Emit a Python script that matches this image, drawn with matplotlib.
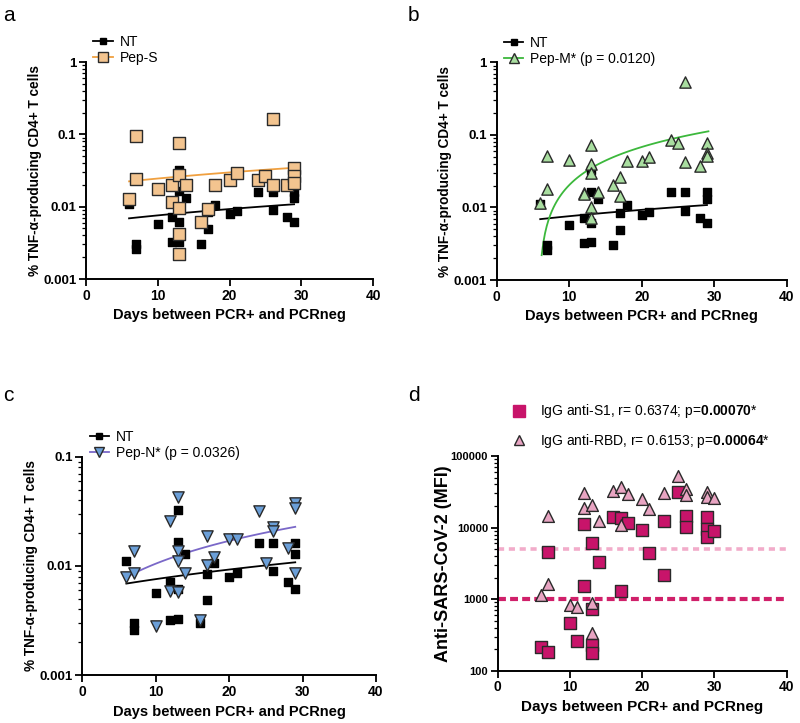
import numpy as np
import matplotlib
matplotlib.use("Agg")
import matplotlib.pyplot as plt
from matplotlib.lines import Line2D
from matplotlib.ticker import LogLocator, NullFormatter

plt.rcParams["font.family"] = "Liberation Sans"
plt.rcParams["mathtext.fontset"] = "custom"
plt.rcParams["mathtext.rm"] = "Liberation Sans"
plt.rcParams["mathtext.bf"] = "Liberation Sans:bold"

# unstimulated (NT) values, same in panels a-c
nt_days = [6, 7, 7, 10, 12, 12, 13, 13, 13, 13, 14, 16, 17, 17, 18, 20, 21, 24, 26, 26, 28, 29, 29, 29]
nt_vals = [0.011, 0.0030, 0.0026, 0.0057, 0.0072, 0.0032, 0.0325, 0.0165, 0.0061, 0.0033,
           0.013, 0.0030, 0.0049, 0.0085, 0.0107, 0.0079, 0.0086, 0.0161, 0.0161, 0.0089,
           0.0072, 0.0161, 0.013, 0.0061]
nt_fit_x = [6, 29]
nt_fit_y = [0.0069, 0.0108]

# panel a: Pep-S
s_days = [6, 7, 7, 10, 12, 12, 13, 13, 13, 13, 13, 14, 16, 17, 18, 20, 21, 24, 25, 26, 26, 28, 29, 29, 29]
s_vals = [0.0128, 0.096, 0.0241, 0.0175, 0.0201, 0.0116, 0.076, 0.0277, 0.0097, 0.0042,
          0.0022, 0.0201, 0.0061, 0.0093, 0.0201, 0.0236, 0.029, 0.0236, 0.0263, 0.163,
          0.0197, 0.0201, 0.0343, 0.0263, 0.021]
s_fit_x = [6, 29]
s_fit_y = [0.0224, 0.0345]

# panel b: Pep-M
m_days = [6, 7, 7, 10, 12, 12, 13, 13, 13, 13, 13, 14, 16, 17, 17, 18, 20, 21, 24, 25, 26, 26, 28, 29, 29, 29]
m_vals = [0.0114, 0.051, 0.018, 0.045, 0.0157, 0.0155, 0.072, 0.040, 0.0295, 0.0100,
          0.0072, 0.0165, 0.0202, 0.0266, 0.0144, 0.0432, 0.0432, 0.050, 0.085, 0.0766,
          0.53, 0.0419, 0.0373, 0.078, 0.0557, 0.051]
m_fit_x = [6.2, 29.2]
m_fit_y = [0.0022, 0.112]

# panel c: Pep-N
n_days = [6, 7, 7, 10, 12, 12, 13, 13, 13, 13, 14, 16, 17, 17, 18, 20, 21, 24, 25, 26, 26, 28, 29, 29, 29]
n_vals = [0.0079, 0.0138, 0.0087, 0.0028, 0.026, 0.0059, 0.043, 0.0136, 0.0111, 0.0058,
          0.0087, 0.0032, 0.0188, 0.0102, 0.012, 0.0178, 0.0178, 0.0316, 0.0107, 0.0229,
          0.0209, 0.0145, 0.0374, 0.0337, 0.0086]
n_fit_x = [6, 29]
n_fit_y = [0.0079, 0.0228]

# panel d: IgG anti-S1 and anti-RBD (MFI)
s1_days = [6, 7, 7, 10, 11, 12, 12, 13, 13, 13, 13, 14, 16, 17, 17, 18, 20, 21, 23, 23, 25, 26, 26, 29, 29, 29, 30]
s1_vals = [212, 185, 4560, 469, 263, 11220, 1510, 6080, 720, 228, 179, 3340, 14190, 13740,
           1285, 11690, 9240, 4460, 12220, 2150, 31050, 14650, 10300, 13900, 9550, 7470, 8850]
rbd_days = [6, 7, 7, 10, 11, 12, 12, 13, 13, 13, 14, 16, 17, 17, 18, 20, 21, 23, 25, 26, 26, 29, 29, 30]
rbd_vals = [1143, 14520, 1626, 818, 785, 30060, 18750, 20470, 893, 340, 12360, 32450, 36490,
            10960, 29450, 25060, 18140, 30060, 52630, 34600, 28200, 31760, 27040, 25900]
cutoffs = [5000, 1000]

xlabel = "Days between PCR+ and PCRneg"
tnf_label = "% TNF-\u03b1-producing CD4+ T cells"
x_ticks = [0, 10, 20, 30, 40]

fig = plt.figure(figsize=(8, 7.23), dpi=100)


def style(ax, yticks, ylabels, ylabel, tick_size=9.5):
    ax.set_yscale("log")
    ax.set_xlim(0, 40)
    ax.set_ylim(yticks[0], yticks[-1])
    ax.set_xticks(x_ticks)
    ax.set_yticks(yticks)
    ax.set_yticklabels(ylabels)
    ax.yaxis.set_minor_locator(LogLocator(base=10, subs=np.arange(2, 10)))
    ax.yaxis.set_minor_formatter(NullFormatter())
    for side in ["top", "right"]:
        ax.spines[side].set_visible(False)
    for side in ["left", "bottom"]:
        ax.spines[side].set_linewidth(1.4)
    ax.tick_params(which="major", length=5, width=1.3, pad=2)
    ax.tick_params(axis="y", which="major", labelsize=tick_size)
    ax.tick_params(axis="x", which="major", labelsize=10)
    ax.tick_params(which="minor", length=3, width=0.9)
    for lab in ax.get_xticklabels() + ax.get_yticklabels():
        lab.set_fontweight("bold")
    ax.set_xlabel(xlabel, fontweight="bold", fontsize=10.5, labelpad=4)
    ax.set_ylabel(ylabel, fontweight="bold", fontsize=9.8, labelpad=1)


def fit_line(ax, fx, fy, color):
    xs = np.linspace(fx[0], fx[1], 100)
    ys = fy[0] + (fy[1] - fy[0]) * (xs - fx[0]) / (fx[1] - fx[0])
    ax.plot(xs, ys, color=color, lw=1.3, zorder=2)


def tcell_panel(rect, days, vals, fx, fy, marker, fill, lcolor, label, yticks, ylabels):
    ax = fig.add_axes(rect)
    ax.scatter(nt_days, nt_vals, marker="s", s=28, color="black", zorder=3)
    ax.scatter(days, vals, marker=marker, s=66, facecolor=fill, edgecolor="#2a2a2a",
               linewidth=1.0, zorder=4)
    fit_line(ax, nt_fit_x, nt_fit_y, "black")
    fit_line(ax, fx, fy, lcolor)
    style(ax, yticks, ylabels, tnf_label)
    handles = [
        Line2D([], [], color="black", lw=1.3, marker="s", markersize=5),
        Line2D([], [], color=lcolor, lw=1.3, marker=marker, markersize=7.5,
               markerfacecolor=fill, markeredgecolor="#2a2a2a"),
    ]
    ax.legend(handles, ["NT", label], loc="lower left", bbox_to_anchor=(0.025, 0.985),
              frameon=False, fontsize=10, handlelength=1.4, handletextpad=0.5,
              labelspacing=0.15, borderpad=0, borderaxespad=0)
    return ax


ax_a = tcell_panel([0.1075, 0.6141, 0.3588, 0.3001], s_days, s_vals, s_fit_x, s_fit_y,
                   "s", "#f3c48f", "#f0a040", "Pep-S",
                   [0.001, 0.01, 0.1, 1], ["0.001", "0.01", "0.1", "1"])
ax_b = tcell_panel([0.6209, 0.6127, 0.3625, 0.3011], m_days, m_vals, m_fit_x, m_fit_y,
                   "^", "#a9dea0", "#3cb83c", "Pep-M* (p = 0.0120)",
                   [0.001, 0.01, 0.1, 1], ["0.001", "0.01", "0.1", "1"])
ax_c = tcell_panel([0.1029, 0.0660, 0.3671, 0.3024], n_days, n_vals, n_fit_x, n_fit_y,
                   "v", "#6b9fd8", "#7a68c8", "Pep-N* (p = 0.0326)",
                   [0.001, 0.01, 0.1], ["0.001", "0.01", "0.1"])

# panel d
ax_d = fig.add_axes([0.6221, 0.0723, 0.3613, 0.2970])
ax_d.axhline(cutoffs[0], color="#f2acca", lw=2.6, ls=(0, (1.7, 1.3)), zorder=1)
ax_d.axhline(cutoffs[1], color="#d0206a", lw=3.0, ls=(0, (1.9, 1.0)), zorder=1)
ax_d.scatter(s1_days, s1_vals, marker="s", s=72, facecolor="#c8146a", edgecolor="#2a2a2a",
             linewidth=1.0, zorder=3)
ax_d.scatter(rbd_days, rbd_vals, marker="^", s=72, facecolor="#e8a4c2", edgecolor="#2a2a2a",
             linewidth=1.0, zorder=4)
style(ax_d, [100, 1000, 10000, 100000], ["100", "1000", "10000", "100000"],
      "Anti-SARS-CoV-2 (MFI)", tick_size=8)
ax_d.set_ylabel("Anti-SARS-CoV-2 (MFI)", fontweight="bold", fontsize=13, labelpad=-1)
ax_d.set_xlabel(xlabel, fontweight="bold", fontsize=11, labelpad=4)
d_handles = [
    Line2D([], [], ls="none", marker="s", markersize=8, markerfacecolor="#c8146a",
           markeredgecolor="#c8146a"),
    Line2D([], [], ls="none", marker="^", markersize=7, markerfacecolor="#e8a4c2",
           markeredgecolor="#2a2a2a"),
]
d_labels = [r"IgG anti-S1, r= 0.6374; p=$\mathbf{0.00070}$*",
            r"IgG anti-RBD, r= 0.6153; p=$\mathbf{0.00064}$*"]
ax_d.legend(d_handles, d_labels, loc="lower left", bbox_to_anchor=(0.05, 1.03),
            frameon=False, fontsize=10, handlelength=1.0, handletextpad=1.0,
            labelspacing=0.8, borderpad=0, borderaxespad=0)

for x, y, letter in [(0.004, 0.965, "a"), (0.51, 0.965, "b"), (0.004, 0.44, "c"), (0.51, 0.44, "d")]:
    fig.text(x, y, letter, fontsize=15, ha="left", va="bottom")

plt.savefig("out.png", dpi=100)
